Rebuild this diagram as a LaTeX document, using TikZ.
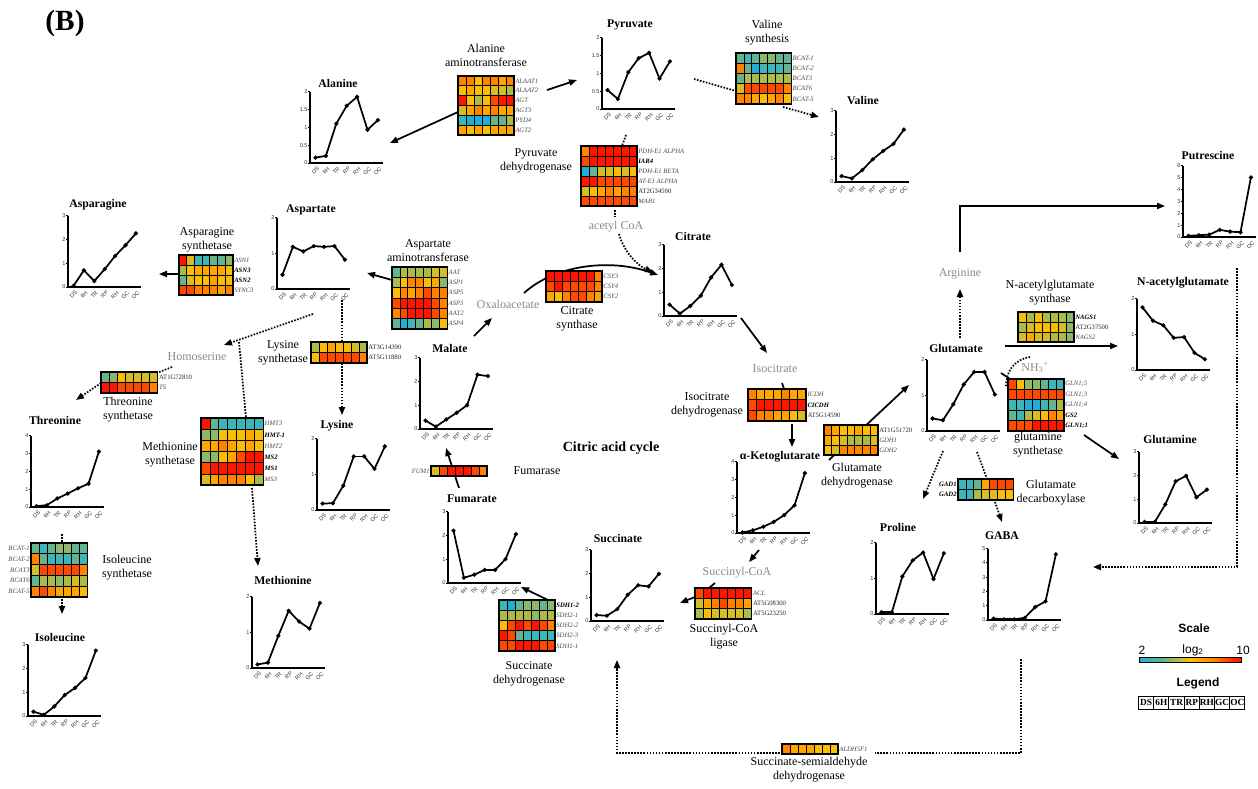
\documentclass[tikz,border=0pt]{standalone}
\usepackage{fontspec}
\setmainfont{Liberation Serif}
\setsansfont{Liberation Sans}
\usetikzlibrary{arrows.meta}
\definecolor{hC}{HTML}{1FADDC}
\definecolor{hT}{HTML}{3DB4B6}
\definecolor{hG}{HTML}{64B48F}
\definecolor{hL}{HTML}{8CB86C}
\definecolor{hV}{HTML}{ABBA48}
\definecolor{hM}{HTML}{D5BD28}
\definecolor{hY}{HTML}{F8BE0A}
\definecolor{hA}{HTML}{FFA500}
\definecolor{hO}{HTML}{FF8200}
\definecolor{hE}{HTML}{FF4800}
\definecolor{hR}{HTML}{FF1400}
\definecolor{metabgray}{HTML}{8A8A8A}
\pgfdeclarehorizontalshading{sbar}{100bp}{color(0bp)=(hC); color(25bp)=(hC); color(31bp)=(hT); color(37bp)=(hG); color(43bp)=(hV); color(50bp)=(hY); color(56bp)=(hA); color(62bp)=(hO); color(68bp)=(hE); color(75bp)=(hR); color(100bp)=(hR)}
\tikzset{
  conn/.style={line width=1.3pt, -{Triangle[length=6pt,width=4.6pt]}},
  link/.style={line width=1.3pt},
  dconn/.style={line width=1.3pt, dash pattern=on 1.2pt off 1.1pt, -{Triangle[length=6pt,width=4.6pt]}},
  dlink/.style={line width=1.3pt, dash pattern=on 1.2pt off 1.1pt},
  axis/.style={line width=1.6pt},
  dataline/.style={line width=1.3pt, line cap=round, line join=round},
  ticklab/.style={font=\fontsize{4.2}{4.6}\sffamily\selectfont, inner sep=0pt, text=black!80},
  ctitle/.style={font=\fontsize{8.8}{10}\bfseries\selectfont, inner sep=0pt},
  gene/.style={font=\fontsize{5}{6}\selectfont, inner sep=0.4pt},
  enz/.style={font=\fontsize{9}{10.6}\selectfont, align=center, inner sep=0pt},
  metab/.style={font=\fontsize{9}{10.6}\selectfont, text=metabgray, inner sep=0pt},
  legbox/.style={draw, line width=0.8pt, inner sep=0pt, minimum width=11.4pt, minimum height=9.6pt, font=\fontsize{7}{7}\bfseries\selectfont},
}
\newcommand{\Gi}[1]{{\color{black!70}\textit{#1}}}
\newcommand{\Gb}[1]{\textbf{\textit{#1}}}
\newcommand{\Gu}[1]{{\color{black!85}#1}}
\def\sideL{L}
% name, x, y, cw, ch, nrows, rows, labels, side
\newcommand{\myheat}[9]{%
  \foreach \row [count=\j] in {#7} {
    \foreach \c [count=\i] in \row {
      \filldraw[fill=h\c, draw=black, line width=0.6pt] ({#2+(\i-1)*#4},{#3+(\j-1)*#5}) rectangle ++(#4,#5);
    }
  }
  \node[draw, line width=1.1pt, inner sep=0pt, outer sep=0pt, anchor=north west,
        minimum width={7*#4*0.75pt}, minimum height={#6*#5*0.75pt}] (#1) at (#2,#3) {};
  \def\hside{#9}%
  \foreach \g [count=\j] in {#8} {
    \ifx\hside\sideL
      \node[gene, anchor=east] (#1-g\j) at ({#2-0.6},{#3+(\j-0.5)*#5}) {\g};
    \else
      \node[gene, anchor=west] (#1-g\j) at ({#2+7*#4+0.6},{#3+(\j-0.5)*#5}) {\g};
    \fi
  }
}
% name, ox, oy, ymax, ticks, values, title, tx, ty
\newcommand{\mychart}[9]{%
  \node[ctitle] (#1) at (#8,#9) {#7};
  \begin{scope}[shift={(#2,#3)}]
    \foreach \tk [count=\k] in {#5} {
      \draw[line width=0.5pt] (-1.8,{-\tk/#4*71.5}) -- (0,{-\tk/#4*71.5});
      \node[ticklab, anchor=east] (#1-y\k) at (-2.2,{-\tk/#4*71.5}) {\tk};
    }
    \foreach \lab [count=\i] in {DS,6H,TR,RP,RH,GC,OC} {
      \node[ticklab, rotate=45, anchor=north east] (#1-x\i) at ({6.8+(\i-1)*10.4},3.2) {\lab};
    }
    \draw[axis] (0,-71.5) -- (0,0) -- (73,0);
    \foreach \v [count=\i, remember=\v as \pv (initially 0)] in {#6} {
      \ifnum\i>1
        \draw[dataline] ({5.5+(\i-2)*10.4},{-\pv/#4*71.5}) -- ({5.5+(\i-1)*10.4},{-\v/#4*71.5});
      \fi
    }
    \foreach \v [count=\i] in {#6} {
      \fill ({5.5+(\i-1)*10.4},{-\v/#4*71.5}) +(0,-2.3) -- +(2.3,0) -- +(0,2.3) -- +(-2.3,0) -- cycle;
    }
  \end{scope}
}
\begin{document}
\begin{tikzpicture}[x=0.75pt,y=-0.75pt]
\useasboundingbox (0,0) rectangle (1258,789);
\fill[white] (0,0) rectangle (1258,789);

% ---------- coordinates ----------
\coordinate (p-alaat-w) at (458,112);
\coordinate (p-ala) at (390,143);
\coordinate (p-alaat-e) at (547,90);
\coordinate (p-pyr) at (577,80);
\coordinate (p-oaa) at (524,293);
\coordinate (p-cit-a) at (658,275);
\coordinate (p-cit-out) at (741,318);
\coordinate (p-isocit) at (767,353);
\coordinate (p-isocit-b) at (782,383);
\coordinate (p-icdh-t) at (784,389);
\coordinate (p-icdh-b) at (792,424);
\coordinate (p-akg) at (792,447);
\coordinate (p-akg-r) at (829,460);
\coordinate (p-glu-in) at (909,385);
\coordinate (p-arg-t) at (960,252);
\coordinate (p-corner) at (960,206);
\coordinate (p-put) at (1165,206);
\coordinate (p-glu-r) at (1005,346);
\coordinate (p-nag) at (1118,346);
\coordinate (p-glu-gs) at (1001,373);
\coordinate (p-gs-w) at (1010,379);
\coordinate (p-gs-b) at (1084,435);
\coordinate (p-gln) at (1119,459);
\coordinate (p-akg-b) at (759,550);
\coordinate (p-succoa) at (749,562);
\coordinate (p-succoa-b) at (715,583);
\coordinate (p-scl-t) at (709,588);
\coordinate (p-scl-w) at (695,597);
\coordinate (p-suc) at (680,603);
\coordinate (p-sdh-t) at (548,600);
\coordinate (p-fum) at (521,587);
\coordinate (p-fum-t) at (459,488);
\coordinate (p-mal) at (446,448);
\coordinate (p-mal-t) at (474,336);
\coordinate (p-oaa-in) at (492,318);
\coordinate (p-aat-w) at (392,280);
\coordinate (p-asp) at (367,273);
\coordinate (p-asns-w) at (179,274);
\coordinate (p-asn) at (159,274);
\coordinate (q-pyr-r) at (694,79);
\coordinate (q-bcatv-w) at (736,91);
\coordinate (q-bcatv-b) at (783,107);
\coordinate (q-val) at (819,117);
\coordinate (q-pyr-b) at (626,135);
\coordinate (q-pdh-t) at (622,146);
\coordinate (q-pdh-b) at (615,210);
\coordinate (q-acoa-t) at (615,217);
\coordinate (q-acoa-b) at (619,234);
\coordinate (q-cit) at (653,272);
\coordinate (q-glu-t) at (960,338);
\coordinate (q-arg) at (960,289);
\coordinate (q-nh3) at (1030,357);
\coordinate (q-gs-w) at (1006,387);
\coordinate (q-glu-b1) at (943,451);
\coordinate (q-pro) at (923,499);
\coordinate (q-glu-b2) at (977,452);
\coordinate (q-gad-t) at (987,479);
\coordinate (q-gad-b) at (995,502);
\coordinate (q-gaba) at (1002,522);
\coordinate (q-gaba-b) at (1021,659);
\coordinate (q-c1) at (1021,753);
\coordinate (q-aldh-e) at (875,753);
\coordinate (q-aldh-w) at (780,753);
\coordinate (q-c2) at (617,753);
\coordinate (q-suc) at (617,660);
\coordinate (q-put-r) at (1237,268);
\coordinate (q-c3) at (1237,567);
\coordinate (q-gaba-r) at (1093,567);
\coordinate (q-asp-b) at (313,314);
\coordinate (q-homo) at (224,345);
\coordinate (q-br) at (239,342);
\coordinate (q-mets-t) at (246,418);
\coordinate (q-mets-b) at (252,488);
\coordinate (q-met) at (258,566);
\coordinate (q-asp-b2) at (342,300);
\coordinate (q-lyss-t) at (342,342);
\coordinate (q-lyss-b) at (342,363);
\coordinate (q-lys) at (342,415);
\coordinate (q-homo-b) at (172,367);
\coordinate (q-thrs-e) at (157,373);
\coordinate (q-thrs-w) at (101,383);
\coordinate (q-thr) at (76,400);
\coordinate (q-thr-b) at (62,534);
\coordinate (q-iles-t) at (62,543);
\coordinate (q-iles-b) at (62,599);
\coordinate (q-ile) at (62,614);

% ---------- solid connectors ----------
\draw[conn] (p-alaat-w) -- (p-ala);
\draw[conn] (p-alaat-e) -- (p-pyr);
\draw[conn] (p-oaa) .. controls (555,265) and (610,258) .. (p-cit-a);
\draw[conn] (p-cit-out) -- (p-isocit);
\draw[link] (p-isocit-b) -- (p-icdh-t);
\draw[conn] (p-icdh-b) -- (p-akg);
\draw[conn] (p-akg-r) -- (p-glu-in);
\draw[conn] (p-arg-t) -- (p-corner) -- (p-put);
\draw[conn] (p-glu-r) -- (p-nag);
\draw[link] (p-glu-gs) -- (p-gs-w);
\draw[conn] (p-gs-b) -- (p-gln);
\draw[conn] (p-akg-b) -- (p-succoa);
\draw[link] (p-succoa-b) -- (p-scl-t);
\draw[conn] (p-scl-w) -- (p-suc);
\draw[conn] (p-sdh-t) -- (p-fum);
\draw[conn] (p-fum-t) -- (p-mal);
\draw[conn] (p-mal-t) -- (p-oaa-in);
\draw[conn] (p-aat-w) -- (p-asp);
\draw[conn] (p-asns-w) -- (p-asn);

% ---------- dotted connectors ----------
\draw[dlink] (q-pyr-r) -- (q-bcatv-w);
\draw[dconn] (q-bcatv-b) -- (q-val);
\draw[dlink] (q-pyr-b) -- (q-pdh-t);
\draw[dlink] (q-pdh-b) -- (q-acoa-t);
\draw[dconn] (q-acoa-b) .. controls (624,252) and (638,266) .. (q-cit);
\draw[dconn] (q-glu-t) -- (q-arg);
\draw[dlink] (q-nh3) .. controls (1013,360) and (1006,372) .. (q-gs-w);
\draw[dconn] (q-glu-b1) -- (q-pro);
\draw[dlink] (q-glu-b2) -- (q-gad-t);
\draw[dconn] (q-gad-b) -- (q-gaba);
\draw[dlink] (q-gaba-b) -- (q-c1) -- (q-aldh-e);
\draw[dconn] (q-aldh-w) -- (q-c2) -- (q-suc);
\draw[dconn] (q-put-r) -- (q-c3) -- (q-gaba-r);
\draw[dconn] (q-asp-b) -- (q-homo);
\draw[dlink] (q-br) -- (q-mets-t);
\draw[dconn] (q-mets-b) -- (q-met);
\draw[dlink] (q-asp-b2) -- (q-lyss-t);
\draw[dconn] (q-lyss-b) -- (q-lys);
\draw[dlink] (q-homo-b) -- (q-thrs-e);
\draw[dconn] (q-thrs-w) -- (q-thr);
\draw[dlink] (q-thr-b) -- (q-iles-t);
\draw[dconn] (q-iles-b) -- (q-ile);

% ---------- heatmaps ----------
\myheat{alaat}{458}{76}{8}{9.8}{6}{{O,O,Y,O,O,A,O},{Y,A,Y,Y,M,M,V},{R,Y,V,Y,E,R,R},{M,A,O,A,O,A,A},{T,C,C,C,G,G,V},{A,Y,A,Y,A,A,A}}{\Gi{ALAAT1},\Gi{ALAAT2},\Gi{AGT},\Gi{AGT3},\Gi{PYD4},\Gi{AGT2}}{R}
\myheat{pdh}{581}{146}{8}{10}{6}{{O,R,R,R,R,R,R},{E,R,R,R,R,R,R},{C,G,M,M,Y,M,Y},{R,R,E,E,E,E,E},{M,Y,A,O,A,O,O},{E,E,E,E,E,E,E}}{\Gi{PDH-E1 ALPHA},\Gb{IAR4},\Gi{PDH-E1 BETA},\Gi{AT-E1 ALPHA},\Gu{AT2G34590},\Gi{MAB1}}{R}
\myheat{bcatv}{736}{53}{7.9}{10.2}{5}{{G,T,G,L,L,G,G},{O,G,C,T,T,T,G},{G,V,V,V,V,V,V},{M,E,E,E,E,E,O},{O,O,A,Y,A,O,Y}}{\Gi{BCAT-1},\Gi{BCAT-2},\Gi{BCAT3},\Gi{BCAT6},\Gi{BCAT-5}}{R}
\myheat{aat}{392}{267}{7.9}{10.3}{6}{{G,V,V,V,V,M,M},{V,Y,O,O,Y,A,L},{Y,O,A,O,E,O,O},{E,R,R,R,R,E,O},{O,E,R,R,R,E,O},{G,C,T,G,V,L,Y}}{\Gi{AAT},\Gi{ASP1},\Gi{ASP5},\Gi{ASP3},\Gi{AAT2},\Gi{ASP4}}{R}
\myheat{asns}{179}{255}{7.7}{10}{4}{{R,M,T,T,G,G,L},{V,Y,A,A,A,A,Y},{G,M,Y,Y,A,Y,Y},{E,E,O,O,O,A,O}}{\Gi{ASN1},\Gb{ASN3},\Gb{ASN2},\Gi{SYNC3}}{R}
\myheat{lyss}{311}{342}{8}{10.5}{2}{{V,Y,A,Y,Y,M,V},{Y,E,E,E,E,E,O}}{\Gu{AT3G14390},\Gu{AT5G11880}}{R}
\myheat{thrs}{101}{372}{8.1}{10.5}{2}{{G,L,Y,M,M,M,M},{R,R,E,E,E,E,O}}{\Gu{AT1G72810},\Gi{TS}}{R}
\myheat{mets}{201}{418}{8.9}{11.2}{6}{{R,G,T,T,T,T,T},{L,L,Y,Y,Y,A,Y},{A,A,O,A,Y,A,Y},{L,L,Y,A,E,R,R},{E,R,R,R,R,R,R},{M,A,O,O,O,Y,V}}{\Gi{HMT3},\Gb{HMT-1},\Gi{HMT2},\Gb{MS2},\Gb{MS1},\Gi{MS3}}{R}
\myheat{iles}{31}{543}{8.1}{10.8}{5}{{G,T,G,L,L,G,G},{O,G,T,T,T,G,T},{M,E,E,E,E,E,O},{G,V,V,L,V,M,V},{O,E,O,A,A,A,Y}}{\Gi{BCAT-1},\Gi{BCAT-2},\Gi{BCAT3},\Gi{BCAT6},\Gi{BCAT-5}}{L}
\myheat{csy}{546}{271}{8}{10.3}{3}{{R,R,R,R,R,R,O},{E,R,E,E,E,E,O},{A,Y,O,E,E,O,A}}{\Gi{CSY3},\Gi{CSY4},\Gi{CSY2}}{R}
\myheat{fumase}{431}{466}{8}{10}{1}{{M,E,R,R,R,E,O}}{\Gi{FUM1}}{L}
\myheat{sdh}{499}{600}{8}{10.2}{5}{{T,C,G,L,L,G,L},{V,V,V,V,L,V,V},{Y,E,R,E,R,E,O},{R,E,G,T,T,T,T},{E,E,R,R,R,E,E}}{\Gb{SDH1-2},\Gi{SDH2-1},\Gi{SDH2-2},\Gi{SDH2-3},\Gi{SDH1-1}}{R}
\myheat{scl}{695}{588}{8.1}{10.3}{3}{{E,R,R,R,R,R,R},{M,A,O,E,O,O,A},{V,Y,M,M,M,M,V}}{\Gi{ACL},\Gu{AT5G08300},\Gu{AT5G23250}}{R}
\myheat{icdh}{748}{389}{8.3}{10.7}{3}{{O,A,A,A,O,A,A},{E,R,R,R,R,R,R},{E,O,O,A,A,Y,M}}{\Gi{ICDH},\Gb{CICDH},\Gu{AT5G14590}}{R}
\myheat{gdh}{824}{425}{7.7}{10}{3}{{O,A,Y,Y,A,Y,Y},{A,Y,M,V,V,V,M},{Y,M,O,O,O,O,O}}{\Gu{AT1G51720},\Gi{GDH1},\Gi{GDH2}}{R}
\myheat{nags}{1018}{312}{8}{10}{3}{{Y,V,Y,V,V,V,L},{V,M,Y,Y,Y,M,L},{M,A,M,M,V,V,L}}{\Gb{NAGS1},\Gu{AT2G37500},\Gi{NAGS2}}{R}
\myheat{gs}{1008}{379}{8}{10.4}{5}{{E,Y,L,L,G,T,T},{E,E,E,E,E,E,E},{T,T,C,C,T,G,V},{G,T,V,M,Y,O,A},{E,E,E,R,R,R,R}}{\Gi{GLN1;5},\Gi{GLN1;3},\Gi{GLN1;4},\Gb{GS2},\Gb{GLN1;1}}{R}
\myheat{gad}{958}{479}{7.9}{10.5}{2}{{T,T,G,A,E,E,E},{T,T,V,M,M,Y,Y}}{\Gb{GAD1},\Gb{GAD2}}{L}
\myheat{aldh}{782}{744}{8}{10}{1}{{O,A,A,A,Y,Y,Y}}{\Gi{ALDH5F1}}{R}

% ---------- enzyme labels ----------
\node[enz] (e-alaat) at (486,55.5) {Alanine\\aminotransferase};
\node[enz] (e-pdh) at (536,161) {Pyruvate\\dehydrogenase};
\node[enz] (e-bcatv) at (767,33) {Valine\\synthesis};
\node[enz] (e-aat) at (428,251) {Aspartate\\aminotransferase};
\node[enz] (e-asns) at (207,240) {Asparagine\\synthetase};
\node[enz] (e-lyss) at (283,352.5) {Lysine\\synthetase};
\node[enz] (e-thrs) at (128,410) {Threonine\\synthetase};
\node[enz] (e-mets) at (170,454.5) {Methionine\\synthetase};
\node[enz] (e-iles) at (127,568) {Isoleucine\\synthetase};
\node[enz] (e-csy) at (577,318.7) {Citrate\\synthase};
\node[enz] (e-fumase) at (537,471) {Fumarase};
\node[enz] (e-sdh) at (529,673.7) {Succinate\\dehydrogenase};
\node[enz] (e-scl) at (724,636.7) {Succinyl-CoA\\ligase};
\node[enz] (e-icdh) at (707,405) {Isocitrate\\dehydrogenase};
\node[enz] (e-gdh) at (857,475.5) {Glutamate\\dehydrogenase};
\node[enz] (e-nags) at (1050,293) {N-acetylglutamate\\synthase};
\node[enz] (e-gs) at (1038,444.7) {glutamine\\synthetase};
\node[enz] (e-gad) at (1051,492.5) {Glutamate\\decarboxylase};
\node[enz] (e-aldh) at (809,770) {Succinate-semialdehyde\\dehydrogenase};

% ---------- grey metabolites ----------
\node[metab] (m-oaa) at (508,304) {Oxaloacetate};
\node[metab] (m-acoa) at (616,227) {acetyl CoA};
\node[metab] (m-isocit) at (775,369) {Isocitrate};
\node[metab] (m-homo) at (197,357) {Homoserine};
\node[metab] (m-succoa) at (737,573) {Succinyl-CoA};
\node[metab] (m-arg) at (960,274) {Arginine};
\node[metab] (m-nh3) at (1035,367) {NH\textsubscript{3}\textsuperscript{+}};

% ---------- charts ----------
\mychart{ala}{310}{163}{2}{0,0.5,1,1.5,2}{0.15,0.2,1.1,1.6,1.85,0.93,1.2}{Alanine}{338}{83}
\mychart{pyr}{602}{109}{2}{0,0.5,1,1.5,2}{0.53,0.28,1.03,1.42,1.57,0.85,1.33}{Pyruvate}{630}{25}
\mychart{val}{836}{182}{3}{0,1,2,3}{0.25,0.15,0.5,0.95,1.3,1.6,2.2}{Valine}{863}{101}
\mychart{put}{1183}{237}{6}{0,1,2,3,4,5,6}{0.1,0.15,0.2,0.6,0.45,0.4,5.0}{Putrescine}{1208}{155}
\mychart{asn}{68}{287}{3}{0,1,2,3}{0.05,0.7,0.25,0.75,1.3,1.75,2.25}{Asparagine}{98}{205}
\mychart{asp}{277}{289}{2}{0,1,2}{0.4,1.18,1.05,1.2,1.18,1.2,0.82}{Aspartate}{311}{210}
\mychart{thr}{31}{507}{4}{0,1,2,3,4}{0.05,0.1,0.48,0.75,1.05,1.3,3.1}{Threonine}{55}{420}
\mychart{ile}{28}{716}{3}{0,1,2,3}{0.18,0.05,0.4,0.88,1.18,1.6,2.75}{Isoleucine}{60}{637}
\mychart{met}{252}{668}{2}{0,1,2}{0.1,0.15,0.9,1.6,1.3,1.1,1.82}{Methionine}{283}{580}
\mychart{lys}{317}{510}{2}{0,1,2}{0.18,0.19,0.68,1.5,1.5,1.15,1.78}{Lysine}{337}{426}
\mychart{mal}{420}{429}{3}{0,1,2,3}{0.35,0.1,0.4,0.68,1.0,2.28,2.22}{Malate}{450}{348}
\mychart{fum}{448}{583}{3}{0,1,2,3}{2.2,0.22,0.35,0.55,0.55,1.0,2.05}{Fumarate}{472}{499}
\mychart{suc}{591}{621}{3}{0,1,2,3}{0.25,0.22,0.5,1.1,1.5,1.45,1.98}{Succinate}{618}{538}
\mychart{cit}{664}{316}{3}{0,1,2,3}{0.48,0.1,0.42,0.85,1.62,2.15,1.3}{Citrate}{693}{236}
\mychart{akg}{737}{533}{4}{0,1,2,3,4}{0.03,0.15,0.35,0.62,1.0,1.55,3.35}{α-Ketoglutarate}{780}{457}
\mychart{glu}{927}{431}{2}{0,1,2}{0.35,0.3,0.75,1.3,1.65,1.65,1.02}{Glutamate}{956}{348}
\mychart{nag}{1137}{370}{2}{0,1,2}{1.75,1.38,1.25,0.9,0.92,0.48,0.3}{N-acetylglutamate}{1183}{283}
\mychart{gln}{1139}{523}{3}{0,1,2,3}{0.05,0.05,0.78,1.75,1.98,1.08,1.4}{Glutamine}{1170}{439}
\mychart{pro}{876}{614}{2}{0,1,2}{0.05,0.05,1.05,1.5,1.72,0.98,1.7}{Proline}{898}{527}
\mychart{gaba}{988}{620}{5}{0,1,2,3,4,5}{0.1,0.05,0.05,0.15,0.9,1.3,4.6}{GABA}{1002}{536}

% ---------- titles ----------
\node[font=\fontsize{22}{24}\bfseries\selectfont, inner sep=0pt] (panel) at (65,23) {(B)};
\node[font=\fontsize{10.5}{12}\bfseries\selectfont, inner sep=0pt] (cac) at (611,448) {Citric acid cycle};

% ---------- scale and legend ----------
\node[font=\fontsize{9}{10}\sffamily\bfseries\selectfont, inner sep=0pt] (scale) at (1194,628) {Scale};
\node[font=\fontsize{9}{10}\sffamily\selectfont, inner sep=0pt] (s-lo) at (1142,650) {2};
\node[font=\fontsize{9}{10}\sffamily\selectfont, inner sep=0pt] (s-mid) at (1193,650) {log\textsubscript{2}};
\node[font=\fontsize{9}{10}\sffamily\selectfont, inner sep=0pt] (s-hi) at (1243,650) {10};
\shade[shading=sbar] (1139,657.5) rectangle (1241,662.5);
\draw[line width=0.5pt] (1139,657.5) rectangle (1241,662.5);
\node[font=\fontsize{9}{10}\sffamily\bfseries\selectfont, inner sep=0pt] (legend) at (1198,683) {Legend};
\foreach \lab [count=\i] in {DS,6H,TR,RP,RH,GC,OC} {
  \node[legbox, anchor=north west] (leg\i) at ({1138+(\i-1)*15.2},696) {\lab};
}
\end{tikzpicture}
\end{document}
